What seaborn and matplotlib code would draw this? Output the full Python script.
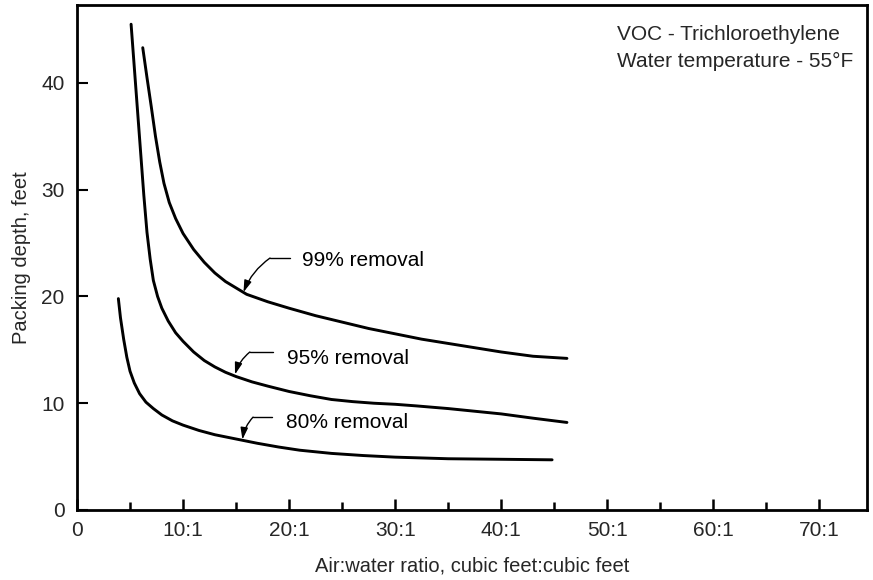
import matplotlib
matplotlib.use("Agg")
import matplotlib.pyplot as plt
import seaborn as sns
import pandas as pd
from matplotlib.ticker import MultipleLocator, FixedLocator

# ---- data ----
x99 = [6.2, 6.6, 7.0, 7.4, 7.8, 8.2, 8.7, 9.3, 10.0, 11.0, 12.0, 13.0, 14.0, 15.0,
       16.0, 18.0, 20.0, 22.5, 25.0, 27.5, 30.0, 32.5, 35.0, 37.5, 40.0, 43.0, 46.2]
y99 = [43.3, 40.5, 37.8, 35.0, 32.6, 30.6, 28.8, 27.3, 25.9, 24.4, 23.2, 22.2, 21.4, 20.8,
       20.2, 19.5, 18.9, 18.2, 17.6, 17.0, 16.5, 16.0, 15.6, 15.2, 14.8, 14.4, 14.2]

x95 = [5.1, 5.4, 5.7, 6.0, 6.3, 6.6, 6.9, 7.2, 7.6, 8.0, 8.6, 9.3, 10.0, 11.0, 12.0,
       13.0, 14.0, 15.0, 16.5, 18.0, 20.0, 22.0, 24.0, 26.0, 28.0, 30.0, 32.0, 35.0,
       38.0, 40.0, 43.0, 46.2]
y95 = [45.5, 41.5, 37.5, 33.5, 29.5, 26.0, 23.5, 21.5, 20.0, 18.9, 17.7, 16.6, 15.8, 14.8, 14.0,
       13.4, 12.9, 12.5, 12.0, 11.6, 11.1, 10.7, 10.35, 10.15, 10.0, 9.9, 9.75, 9.5,
       9.2, 9.0, 8.6, 8.2]

x80 = [3.9, 4.1, 4.4, 4.7, 5.0, 5.4, 5.9, 6.5, 7.2, 8.0, 9.0, 10.0, 11.5, 13.0, 15.0,
       17.0, 19.0, 21.0, 24.0, 27.0, 30.0, 35.0, 40.0, 44.8]
y80 = [19.8, 18.0, 16.0, 14.3, 13.0, 11.9, 10.9, 10.1, 9.5, 8.9, 8.35, 7.95, 7.45, 7.05, 6.65,
       6.25, 5.9, 5.6, 5.3, 5.1, 4.95, 4.8, 4.75, 4.7]

xtick_vals = [0, 10, 20, 30, 40, 50, 60, 70]
xtick_labels = ["0", "10:1", "20:1", "30:1", "40:1", "50:1", "60:1", "70:1"]
ytick_vals = [0, 10, 20, 30, 40]

labels = ["99% removal", "95% removal", "80% removal"]
# (text x, text y, leader start x, bend x, leader y, tip x, tip y)
annots = [
    (21.2, 23.4, 20.1, 18.2, 23.6, 15.7, 20.4),
    (19.8, 14.2, 18.5, 16.3, 14.8, 14.9, 12.7),
    (19.7, 8.2, 18.4, 16.6, 8.7, 15.6, 6.6),
]

sns.set_style("white")
plt.rcParams['font.family'] = ['Liberation Sans', 'DejaVu Sans']

fig = plt.figure(figsize=(8.73, 5.80), dpi=100)
ax = fig.add_axes([0.0882, 0.1207, 0.9050, 0.8707])

for xs, ys in [(x99, y99), (x95, y95), (x80, y80)]:
    df = pd.DataFrame({"x": xs, "y": ys})
    sns.lineplot(data=df, x="x", y="y", ax=ax, color="black", linewidth=2.1, sort=False)

for lab, (tx, ty, sx, bx, ly, px, py) in zip(labels, annots):
    ax.plot([sx, bx], [ly, ly], color="black", linewidth=1.0)
    ax.annotate("", xy=(px, py), xytext=(bx, ly),
                arrowprops=dict(arrowstyle="-|>,head_length=0.7,head_width=0.22",
                                connectionstyle="arc3,rad=0.15",
                                color="black", lw=1.0, shrinkA=0, shrinkB=0))
    ax.text(tx, ty, lab, fontsize=15, va="center", ha="left", color="black")

ax.text(0.683, 0.942, "VOC - Trichloroethylene", transform=ax.transAxes,
        fontsize=15, va="center", ha="left")
ax.text(0.683, 0.889, "Water temperature - 55\u00b0F", transform=ax.transAxes,
        fontsize=15, va="center", ha="left")

ax.set_xlim(0, 74.5)
ax.set_ylim(0, 47.3)
ax.xaxis.set_major_locator(FixedLocator(xtick_vals))
ax.set_xticklabels(xtick_labels)
ax.xaxis.set_minor_locator(MultipleLocator(5))
ax.yaxis.set_major_locator(FixedLocator(ytick_vals))

ax.tick_params(axis="x", which="major", direction="in", length=8, width=1.8,
               labelsize=15, pad=8, bottom=True, top=False, color="black")
ax.tick_params(axis="x", which="minor", direction="in", length=5.5, width=1.8,
               bottom=True, top=False, color="black")
ax.tick_params(axis="y", which="major", direction="in", length=8, width=1.5,
               labelsize=15, pad=9, left=True, right=False, color="black")

for s in ax.spines.values():
    s.set_visible(True)
    s.set_color("black")
    s.set_linewidth(2.0)

ax.set_xlabel("Air:water ratio, cubic feet:cubic feet", fontsize=14.5, labelpad=12)
ax.set_ylabel("Packing depth, feet", fontsize=14.5, labelpad=7)
ax.grid(False)

fig.savefig("out.png", dpi=100)
